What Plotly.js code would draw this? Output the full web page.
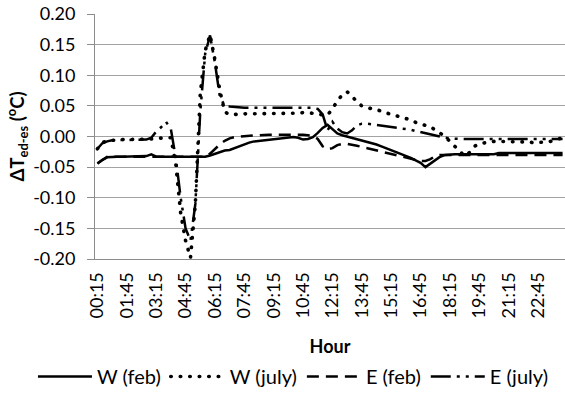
<!DOCTYPE html>
<html><head><meta charset="utf-8">
<script src="https://cdn.plot.ly/plotly-3.0.1.min.js"></script>
<style>
html,body{margin:0;padding:0;background:#fff}
#chart{width:565px;height:396px}
#chart .scatterlayer .trace:nth-of-type(2) path.js-line,
#chart .legend .traces:nth-of-type(2) path.js-line{stroke-linecap:round}
</style>
</head><body><div id="chart"></div>
<script>
const hours = ["00:15","00:30","00:45","01:00","01:15","01:30","01:45","02:00","02:15","02:30","02:45","03:00",
"03:15","03:30","03:45","04:00","04:15","04:30","04:45","05:00","05:15","05:30","05:45","06:00",
"06:15","06:30","06:45","07:00","07:15","07:30","07:45","08:00","08:15","08:30","08:45","09:00",
"09:15","09:30","09:45","10:00","10:15","10:30","10:45","11:00","11:15","11:30","11:45","12:00",
"12:15","12:30","12:45","13:00","13:15","13:30","13:45","14:00","14:15","14:30","14:45","15:00",
"15:15","15:30","15:45","16:00","16:15","16:30","16:45","17:00","17:15","17:30","17:45","18:00",
"18:15","18:30","18:45","19:00","19:15","19:30","19:45","20:00","20:15","20:30","20:45","21:00",
"21:15","21:30","21:45","22:00","22:15","22:30","22:45","23:00","23:15","23:30","23:45","24:00"];

const xTickLabels = ["00:15","01:45","03:15","04:45","06:15","07:45","09:15","10:45",
"12:15","13:45","15:15","16:45","18:15","19:45","21:15","22:45"];
const yTickVals = [-0.20,-0.15,-0.10,-0.05,0.00,0.05,0.10,0.15,0.20];
const yTickLabels = ["-0.20","-0.15","-0.10","-0.05","0.00","0.05","0.10","0.15","0.20"];

const wFeb = [-0.044,-0.038,-0.034,-0.033,-0.033,-0.033,-0.033,-0.033,-0.033,-0.033,-0.032,-0.029,
-0.033,-0.033,-0.033,-0.033,-0.033,-0.033,-0.033,-0.033,-0.033,-0.033,-0.033,-0.031,
-0.028,-0.025,-0.023,-0.022,-0.019,-0.015,-0.012,-0.010,-0.008,-0.007,-0.006,-0.005,
-0.004,-0.004,-0.003,-0.002,-0.001,-0.002,-0.005,-0.004,-0.001,0.006,0.014,0.019,
0.012,0.005,0.002,0.000,-0.002,-0.004,-0.006,-0.008,-0.011,-0.013,-0.016,-0.019,
-0.022,-0.025,-0.028,-0.032,-0.035,-0.039,-0.043,-0.050,-0.044,-0.038,-0.033,-0.030,
-0.029,-0.029,-0.029,-0.029,-0.029,-0.029,-0.029,-0.029,-0.029,-0.029,-0.027,-0.027,
-0.027,-0.027,-0.027,-0.027,-0.027,-0.027,-0.027,-0.027,-0.027,-0.027,-0.027,-0.027];

const wJuly = [-0.020,-0.010,-0.007,-0.006,-0.005,-0.005,-0.005,-0.005,-0.005,-0.005,-0.005,-0.004,
-0.003,-0.003,-0.003,-0.002,-0.045,-0.125,-0.170,-0.198,-0.110,0.070,0.140,0.166,
0.125,0.075,0.040,0.036,0.036,0.037,0.037,0.037,0.037,0.038,0.038,0.038,
0.038,0.038,0.038,0.038,0.038,0.038,0.039,0.039,0.038,0.037,0.035,0.035,
0.045,0.058,0.068,0.073,0.066,0.056,0.050,0.048,0.045,0.044,0.041,0.039,
0.036,0.034,0.032,0.029,0.027,0.023,0.020,0.018,0.016,0.011,0.005,0.000,
-0.008,-0.016,-0.024,-0.032,-0.026,-0.016,-0.012,-0.010,-0.009,-0.008,-0.008,-0.008,
-0.008,-0.008,-0.008,-0.009,-0.009,-0.010,-0.010,-0.010,-0.009,-0.007,-0.004,-0.002];

const eFeb = [-0.044,-0.038,-0.033,-0.033,-0.033,-0.033,-0.033,-0.033,-0.033,-0.033,-0.033,-0.033,
-0.033,-0.033,-0.033,-0.033,-0.033,-0.033,-0.033,-0.033,-0.033,-0.033,-0.033,-0.028,
-0.020,-0.013,-0.007,-0.003,-0.001,0.000,0.000,0.001,0.002,0.002,0.003,0.003,
0.003,0.003,0.004,0.004,0.004,0.003,0.003,0.002,0.001,-0.004,-0.016,-0.021,
-0.019,-0.014,-0.012,-0.012,-0.013,-0.015,-0.017,-0.019,-0.021,-0.023,-0.025,-0.027,
-0.029,-0.031,-0.033,-0.035,-0.037,-0.039,-0.040,-0.040,-0.037,-0.032,-0.030,-0.030,
-0.030,-0.030,-0.030,-0.030,-0.030,-0.030,-0.030,-0.030,-0.030,-0.030,-0.030,-0.030,
-0.030,-0.030,-0.030,-0.030,-0.030,-0.030,-0.030,-0.030,-0.030,-0.030,-0.030,-0.030];

const eJuly = [-0.020,-0.011,-0.008,-0.006,-0.006,-0.006,-0.006,-0.006,-0.006,-0.006,-0.005,-0.002,
0.008,0.015,0.024,0.012,-0.035,-0.100,-0.150,-0.170,-0.110,0.040,0.135,0.165,
0.120,0.065,0.050,0.049,0.048,0.047,0.047,0.047,0.047,0.047,0.047,0.047,
0.047,0.047,0.047,0.047,0.047,0.047,0.047,0.047,0.047,0.045,0.036,0.010,
0.024,0.013,0.007,0.005,0.010,0.018,0.021,0.021,0.020,0.019,0.018,0.017,
0.016,0.015,0.014,0.013,0.011,0.009,0.007,0.005,0.003,0.002,0.000,-0.002,
-0.003,-0.004,-0.004,-0.004,-0.004,-0.004,-0.004,-0.004,-0.004,-0.004,-0.004,-0.004,
-0.004,-0.004,-0.004,-0.004,-0.004,-0.004,-0.004,-0.004,-0.004,-0.004,-0.004,-0.004];

const FONT = 'Lato, "Open Sans", sans-serif';

const traces = [
  {x: hours, y: wFeb, name: 'W (feb)', type: 'scatter', mode: 'lines',
   line: {color: '#000', width: 2.5}},
  {x: hours, y: wJuly, name: 'W (july)', type: 'scatter', mode: 'lines',
   line: {color: '#000', width: 3.6, dash: '0.5px,9px'}},
  {x: hours, y: eFeb, name: 'E (feb)', type: 'scatter', mode: 'lines',
   line: {color: '#000', width: 2.5, dash: '12px,7px'}},
  {x: hours, y: eJuly, name: 'E (july)', type: 'scatter', mode: 'lines',
   line: {color: '#000', width: 2.5, dash: '20px,6px,3px,6px,3px,6px'}}
];

const layout = {
  width: 565, height: 396,
  margin: {l: 95, r: 0, t: 14, b: 135, pad: 0},
  paper_bgcolor: '#fff', plot_bgcolor: '#fff',
  font: {family: FONT, size: 18, color: '#000'},
  showlegend: true,
  legend: {orientation: 'h', xref: 'paper', yref: 'paper',
    x: -0.132, y: -0.482, xanchor: 'left', yanchor: 'middle',
    font: {family: FONT, size: 20, color: '#000'}, itemwidth: 54,
    bgcolor: 'rgba(0,0,0,0)', borderwidth: 0},
  xaxis: {type: 'category', range: [-0.5, 95.5], tickmode: 'array',
    tickvals: xTickLabels, ticktext: xTickLabels, tickangle: -90,
    showgrid: false, zeroline: false, showline: true, linecolor: '#8c8c8c', linewidth: 1,
    ticks: '', ticklabelstandoff: 5, automargin: false,
    title: {text: '<b>Hour</b>', font: {family: FONT, size: 18, color: '#000'}, standoff: 22}},
  yaxis: {range: [-0.2, 0.2], tickmode: 'array', tickvals: yTickVals, ticktext: yTickLabels,
    showgrid: true, gridcolor: '#a3a3a3', gridwidth: 1.2, zeroline: false,
    showline: true, linecolor: '#8c8c8c', linewidth: 1,
    ticks: 'outside', ticklen: 7, tickcolor: '#8c8c8c', ticklabelstandoff: 8, automargin: false,
    title: {text: '<b>ΔT<sub>ed-es</sub> (<sup>o</sup>C)</b>', font: {family: FONT, size: 18.5, color: '#000'}, standoff: 3}}
};

Plotly.newPlot('chart', traces, layout, {displayModeBar: false, staticPlot: true});
</script>
</body></html>
